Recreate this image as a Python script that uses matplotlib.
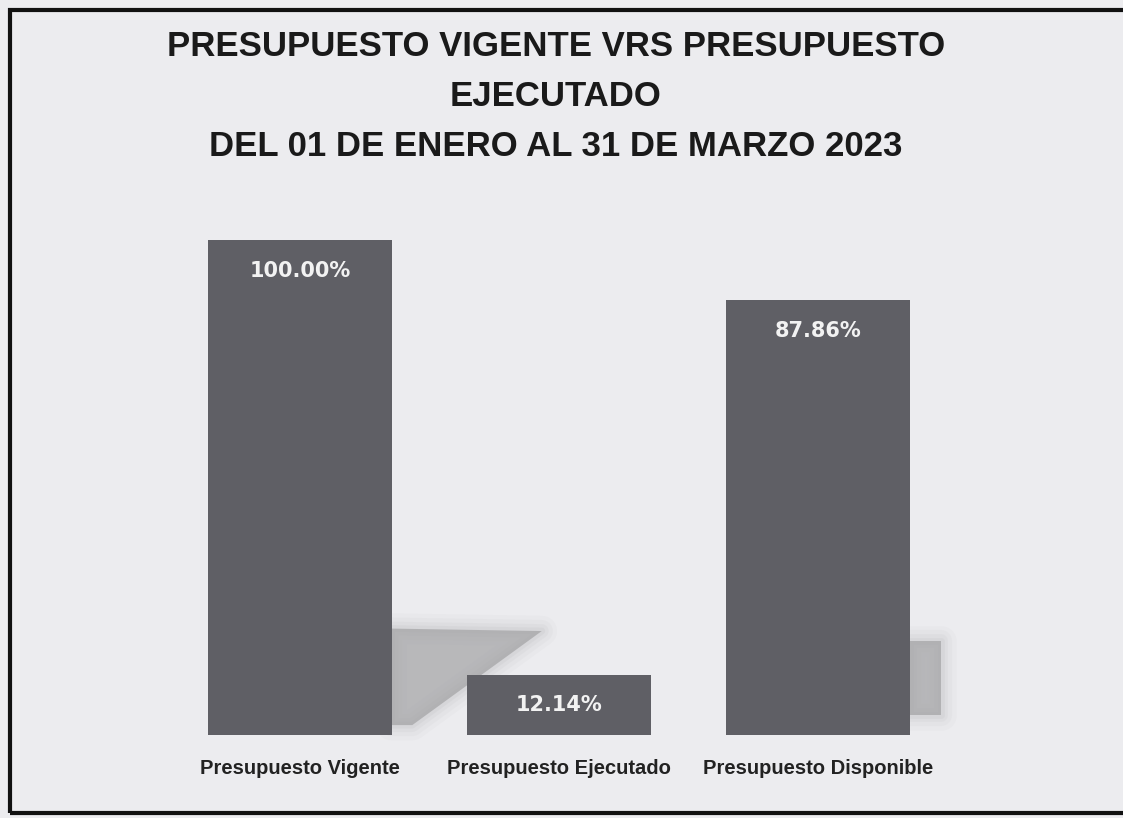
import matplotlib
matplotlib.use("Agg")
import matplotlib.pyplot as plt
from matplotlib.patches import Polygon, Rectangle
from matplotlib import font_manager as fm

categories = ["Presupuesto Vigente", "Presupuesto Ejecutado", "Presupuesto Disponible"]
values = [100.00, 12.14, 87.86]
value_labels = ["100.00%", "12.14%", "87.86%"]
title_lines = ["PRESUPUESTO VIGENTE VRS PRESUPUESTO", "EJECUTADO",
               "DEL 01 DE ENERO AL 31 DE MARZO 2023"]

names = {f.name for f in fm.fontManager.ttflist}
narrow = ["Liberation Sans Narrow", "Liberation Sans", "DejaVu Sans"]
narrow = [n for n in narrow if n in names] or ["DejaVu Sans"]

W, H = 1123, 818
fig = plt.figure(figsize=(W / 100, H / 100), dpi=100)
bg = "#ececef"
fig.patch.set_facecolor(bg)

# axes placement (pixel based)
left, right, top, bottom = 170.5, 947.5, 240, 735
ax = fig.add_axes([left / W, (H - bottom) / H, (right - left) / W, (bottom - top) / H])
ax.set_facecolor("none")
ax.set_xlim(-0.5, 2.5)
ax.set_ylim(0, 100)
for s in ax.spines.values():
    s.set_visible(False)
ax.set_yticks([])

x = list(range(len(categories)))
bars = ax.bar(x, values, width=0.707, color="#5f5f65", zorder=3)

# soft shadows behind bars
def soft_poly(pts, color="#a2a2a4"):
    for lw, a in [(22, 0.05), (16, 0.06), (10, 0.08), (5, 0.1)]:
        ax.add_patch(Polygon(pts, closed=True, facecolor="none", edgecolor=color,
                             linewidth=lw, alpha=a, joinstyle="round", zorder=1,
                             clip_on=False))
    ax.add_patch(Polygon(pts, closed=True, facecolor=color, edgecolor="none",
                         alpha=0.7, zorder=1, clip_on=False))

b0 = bars[0]
xr0 = b0.get_x() + b0.get_width()
soft_poly([(xr0, 2.0), (xr0, 21.5), (xr0 + 0.58, 21.0), (xr0 + 0.08, 2.0)])
b2 = bars[2]
xr2 = b2.get_x() + b2.get_width()
soft_poly([(xr2, 4.0), (xr2, 19.0), (xr2 + 0.12, 19.0), (xr2 + 0.12, 4.0)])

for b, lab in zip(bars, value_labels):
    ax.annotate(lab, (b.get_x() + b.get_width() / 2, b.get_height()),
                xytext=(0, -22), textcoords="offset points", ha="center", va="center",
                color="#f2f2f2", fontsize=15, fontweight="semibold",
                family=["DejaVu Sans"], zorder=4)

ax.set_xticks(x, categories)
ax.tick_params(axis="x", length=0, pad=17)
for t in ax.get_xticklabels():
    t.set_family(narrow)
    t.set_fontsize(14.5)
    t.set_fontweight("bold")
    t.set_color("#222222")

# title
ys = [46, 97, 146]
for line, yy in zip(title_lines, ys):
    fig.text(556 / W, 1 - yy / H, line, ha="center", va="center", fontsize=25,
             fontweight="bold", family=narrow, color="#1a1a1a")

# border (right edge off-canvas)
fig.patches.append(Rectangle((10 / W, 1 - 813 / H), 1.2, (813 - 10) / H,
                             transform=fig.transFigure, facecolor="none",
                             edgecolor="#111111", linewidth=3))

fig.savefig("out.png", dpi=100, facecolor=bg)
